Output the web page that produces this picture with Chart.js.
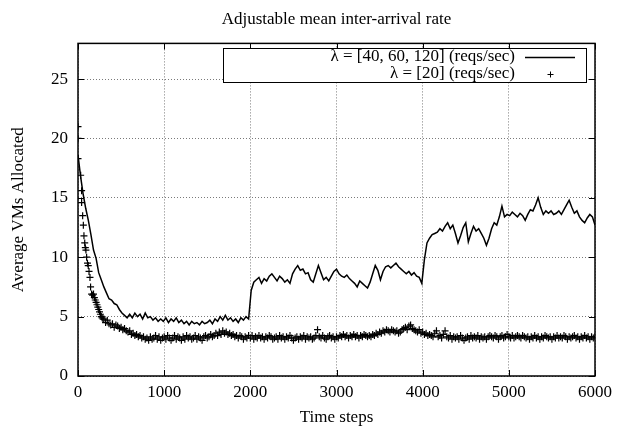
<!DOCTYPE html>
<html><head><meta charset="utf-8">
<script src="https://cdn.jsdelivr.net/npm/chart.js@4.4.0/dist/chart.umd.min.js"></script>
<style>html,body{margin:0;padding:0;background:#fff;}</style>
</head><body>
<canvas id="c" width="618" height="427"></canvas>
<script>
const chartTitle = 'Adjustable mean inter-arrival rate';
const xAxisTitle = 'Time steps';
const yAxisTitle = 'Average VMs Allocated';
const seriesNames = ['λ = [40, 60, 120] (reqs/sec)', 'λ = [20] (reqs/sec)'];
const xTicks = [0, 1000, 2000, 3000, 4000, 5000, 6000];
const yTicks = [0, 5, 10, 15, 20, 25];
const xRange = [0, 6000];
const yRange = [0, 28];

// Series 1 (line): one value every lineStep time steps, starting at 0
const lineStep = 30;
const lineValues = [
  18.6,16.8,15.3,14.1,13.1,11.9,10.6,9.9,8.7,8.1,
  7.5,7.0,6.5,6.4,6.1,6.0,5.6,5.3,5.1,4.9,
  5.2,4.9,5.3,5.0,5.2,4.8,5.3,4.9,5.0,4.7,
  4.9,4.6,4.8,4.6,4.9,4.5,4.8,4.6,4.9,4.5,
  4.7,4.4,4.6,4.3,4.6,4.4,4.5,4.3,4.6,4.4,
  4.5,4.7,4.4,4.8,4.6,5.0,4.7,5.1,4.7,4.9,
  4.6,4.8,4.5,4.9,4.7,5.0,4.8,7.2,7.9,8.1,
  8.3,7.8,8.2,8.0,8.4,8.6,8.3,8.0,8.4,8.2,
  7.9,8.1,7.8,8.6,9.0,9.3,8.9,9.0,8.6,8.7,
  8.1,7.9,8.6,9.3,8.7,8.1,8.3,8.0,8.4,8.8,
  9.0,8.6,8.4,8.3,8.5,8.2,8.0,7.8,7.5,8.0,
  7.8,7.6,7.4,7.9,8.6,9.3,8.9,8.1,8.8,9.2,
  9.3,9.1,9.3,9.5,9.2,9.0,8.8,8.6,8.8,8.5,
  8.7,8.4,8.3,7.8,9.8,11.2,11.6,11.9,12.0,12.1,
  12.4,12.2,12.6,12.9,12.4,12.7,12.0,11.2,11.8,12.5,
  12.9,11.3,12.0,12.6,12.2,12.4,12.0,11.6,11.0,11.6,
  12.4,12.9,12.7,13.4,14.3,13.4,13.6,13.5,13.8,13.6,
  13.4,13.7,13.5,13.1,13.6,14.0,13.9,14.4,15.0,14.2,
  13.6,13.9,13.7,13.9,13.6,13.7,13.9,13.6,14.0,14.4,
  14.8,14.2,13.7,13.9,13.4,13.1,12.9,13.3,13.6,13.4,
  12.7
];

// Series 2 (points): sparse early samples, then one every plusLateStep steps
const plusEarlySteps = [0,0,0,31,42,42,54,62,69,78,85,92,100,110,119,128,139,146,158,170,180,190,200,210,220,230,240,250,260,270,280,290];
const plusEarlyValues = [21.0,20.0,18.3,16.9,15.6,14.6,13.5,12.7,11.8,11.2,10.8,10.6,10.0,9.5,9.3,8.8,8.3,7.5,6.9,6.8,6.9,6.6,6.4,6.2,6.0,5.8,5.6,5.4,5.2,5.0,4.9,4.8];
const plusLateStart = 300;
const plusLateStep = 20;
const plusLateValues = [
  4.8,4.5,4.7,4.4,4.3,4.4,4.1,4.3,4.2,4.0,
  4.1,3.9,4.0,3.8,3.7,3.8,3.5,3.6,3.4,3.5,
  3.3,3.4,3.2,3.3,3.1,3.2,3.0,3.3,3.1,3.2,
  3.4,3.1,3.3,3.0,3.2,3.3,3.1,3.4,3.2,3.0,
  3.2,3.4,3.1,3.3,3.2,3.0,3.3,3.1,3.4,3.2,
  3.3,3.1,3.2,3.4,3.1,3.3,3.2,3.0,3.3,3.4,
  3.2,3.3,3.5,3.3,3.4,3.6,3.4,3.7,3.5,3.8,
  3.6,3.7,3.5,3.6,3.4,3.5,3.3,3.4,3.2,3.4,
  3.3,3.1,3.3,3.2,3.4,3.2,3.4,3.1,3.3,3.2,
  3.4,3.2,3.3,3.1,3.3,3.2,3.4,3.3,3.1,3.2,
  3.3,3.1,3.4,3.2,3.3,3.1,3.3,3.2,3.4,3.2,
  3.0,3.2,3.3,3.1,3.3,3.2,3.4,3.1,3.3,3.2,
  3.3,3.1,3.2,3.4,3.9,3.3,3.2,3.4,3.2,3.1,
  3.3,3.4,3.2,3.3,3.1,3.3,3.2,3.4,3.3,3.5,
  3.3,3.4,3.2,3.4,3.3,3.5,3.3,3.4,3.2,3.4,
  3.3,3.5,3.4,3.3,3.4,3.3,3.5,3.4,3.6,3.5,
  3.7,3.6,3.8,3.7,3.9,3.8,3.7,3.9,3.8,3.7,
  3.8,3.6,3.7,3.9,4.0,4.1,3.9,4.2,4.3,4.0,
  3.9,3.8,3.7,3.9,3.6,3.7,3.5,3.6,3.4,3.5,
  3.4,3.3,3.6,3.8,3.3,3.4,3.2,3.5,3.8,3.3,
  3.2,3.4,3.1,3.3,3.2,3.3,3.1,3.4,3.2,3.0,
  3.2,3.3,3.1,3.4,3.2,3.3,3.2,3.4,3.1,3.3,
  3.2,3.3,3.1,3.3,3.4,3.3,3.2,3.4,3.3,3.1,
  3.3,3.4,3.2,3.3,3.5,3.3,3.2,3.4,3.2,3.3,
  3.4,3.3,3.2,3.4,3.3,3.2,3.3,3.1,3.3,3.2,
  3.4,3.2,3.3,3.1,3.3,3.2,3.4,3.3,3.2,3.3,
  3.1,3.3,3.2,3.4,3.2,3.3,3.2,3.4,3.3,3.1,
  3.3,3.2,3.3,3.4,3.2,3.3,3.1,3.3,3.2,3.4,
  3.2,3.3,3.1,3.3,3.2,3.3
];

const FONT_FAMILY = '"Liberation Serif", "Times New Roman", serif';
const FONT_SIZE = 17;

const lineData = lineValues.map((v, i) => ({x: i * lineStep, y: v}));
const plusData = plusEarlySteps.map((s, i) => ({x: s, y: plusEarlyValues[i]}))
  .concat(plusLateValues.map((v, i) => ({x: plusLateStart + i * plusLateStep, y: v})));

const framePlugin = {
  id: 'gnuplotFrame',
  afterDraw(chart) {
    const {ctx, chartArea: a, scales} = chart;
    ctx.save();
    // inward tick marks
    ctx.strokeStyle = '#000';
    ctx.lineWidth = 1;
    const tl = 6;
    ctx.beginPath();
    xTicks.forEach(v => {
      const px = Math.round(scales.x.getPixelForValue(v)) + 0.5;
      ctx.moveTo(px, a.bottom); ctx.lineTo(px, a.bottom - tl);
      ctx.moveTo(px, a.top); ctx.lineTo(px, a.top + tl);
    });
    yTicks.forEach(v => {
      const py = Math.round(scales.y.getPixelForValue(v)) + 0.5;
      ctx.moveTo(a.left, py); ctx.lineTo(a.left + tl, py);
      ctx.moveTo(a.right, py); ctx.lineTo(a.right - tl, py);
    });
    ctx.stroke();
    // frame
    ctx.lineWidth = 1.5;
    ctx.strokeRect(a.left, a.top, a.right - a.left, a.bottom - a.top);

    // legend box (inside top right)
    const boxL = 223, boxR = 587, boxT = 48, boxB = 83;
    ctx.fillStyle = '#fff';
    ctx.fillRect(boxL, boxT, boxR - boxL, boxB - boxT);
    ctx.lineWidth = 1;
    ctx.strokeRect(boxL + 0.5, boxT + 0.5, boxR - boxL - 1, boxB - boxT - 1);
    ctx.font = FONT_SIZE + 'px ' + FONT_FAMILY;
    ctx.fillStyle = '#000';
    ctx.textAlign = 'right';
    ctx.textBaseline = 'middle';
    const rows = [57, 74];
    const textR = boxR - 72, sampleL = boxR - 62, sampleR = boxR - 12;
    chart.data.datasets.forEach((ds, i) => {
      ctx.fillText(ds.label, textR, rows[i]);
      if (ds.showLine !== false) {
        ctx.beginPath();
        ctx.lineWidth = ds.borderWidth;
        ctx.moveTo(sampleL, rows[i] + 0.5); ctx.lineTo(sampleR, rows[i] + 0.5);
        ctx.stroke();
      } else {
        const cx = Math.round((sampleL + sampleR) / 2) + 0.5, cy = rows[i] + 0.5, r = 3;
        ctx.beginPath();
        ctx.lineWidth = 1;
        ctx.moveTo(cx - r, cy); ctx.lineTo(cx + r, cy);
        ctx.moveTo(cx, cy - r); ctx.lineTo(cx, cy + r);
        ctx.stroke();
      }
    });
    ctx.restore();
  }
};

const fontObj = {family: FONT_FAMILY, size: FONT_SIZE, weight: 'normal'};
const plainTick = v => String(v);

new Chart(document.getElementById('c'), {
  type: 'scatter',
  data: {
    datasets: [
      {
        label: seriesNames[0],
        data: lineData,
        showLine: true,
        borderColor: '#000',
        backgroundColor: '#000',
        borderWidth: 1.5,
        pointRadius: 0,
        tension: 0
      },
      {
        label: seriesNames[1],
        data: plusData,
        showLine: false,
        pointStyle: 'cross',
        pointRadius: 3.5,
        pointBorderWidth: 1.2,
        borderColor: '#000',
        backgroundColor: '#000'
      }
    ]
  },
  options: {
    responsive: false,
    animation: false,
    devicePixelRatio: 1,
    layout: {padding: {left: 0, right: 21, top: 0, bottom: 0}},
    plugins: {
      legend: {display: false},
      tooltip: {enabled: false},
      title: {
        display: true,
        text: chartTitle,
        fullSize: false,
        color: '#000',
        font: fontObj,
        padding: {top: 9, bottom: 14}
      }
    },
    scales: {
      x: {
        type: 'linear',
        min: xRange[0], max: xRange[1],
        afterBuildTicks: s => { s.ticks = xTicks.map(v => ({value: v})); },
        afterFit: s => { s.height = 51; },
        grid: {color: '#7a7a7a', lineWidth: 1, drawTicks: false},
        border: {display: false, dash: [1, 2]},
        ticks: {color: '#000', font: fontObj, padding: 6, maxRotation: 0, autoSkip: false, callback: plainTick},
        title: {display: true, text: xAxisTitle, color: '#000', font: fontObj, padding: {top: 0, bottom: -1}}
      },
      y: {
        type: 'linear',
        min: yRange[0], max: yRange[1],
        afterBuildTicks: s => { s.ticks = yTicks.map(v => ({value: v})); },
        afterFit: s => { s.width = 78; },
        grid: {color: '#7a7a7a', lineWidth: 1, drawTicks: false},
        border: {display: false, dash: [1, 2]},
        ticks: {color: '#000', font: fontObj, padding: 10, callback: plainTick},
        title: {display: true, text: yAxisTitle, color: '#000', font: fontObj, padding: {top: 8, bottom: 0}}
      }
    }
  },
  plugins: [framePlugin]
});
</script>
</body></html>
